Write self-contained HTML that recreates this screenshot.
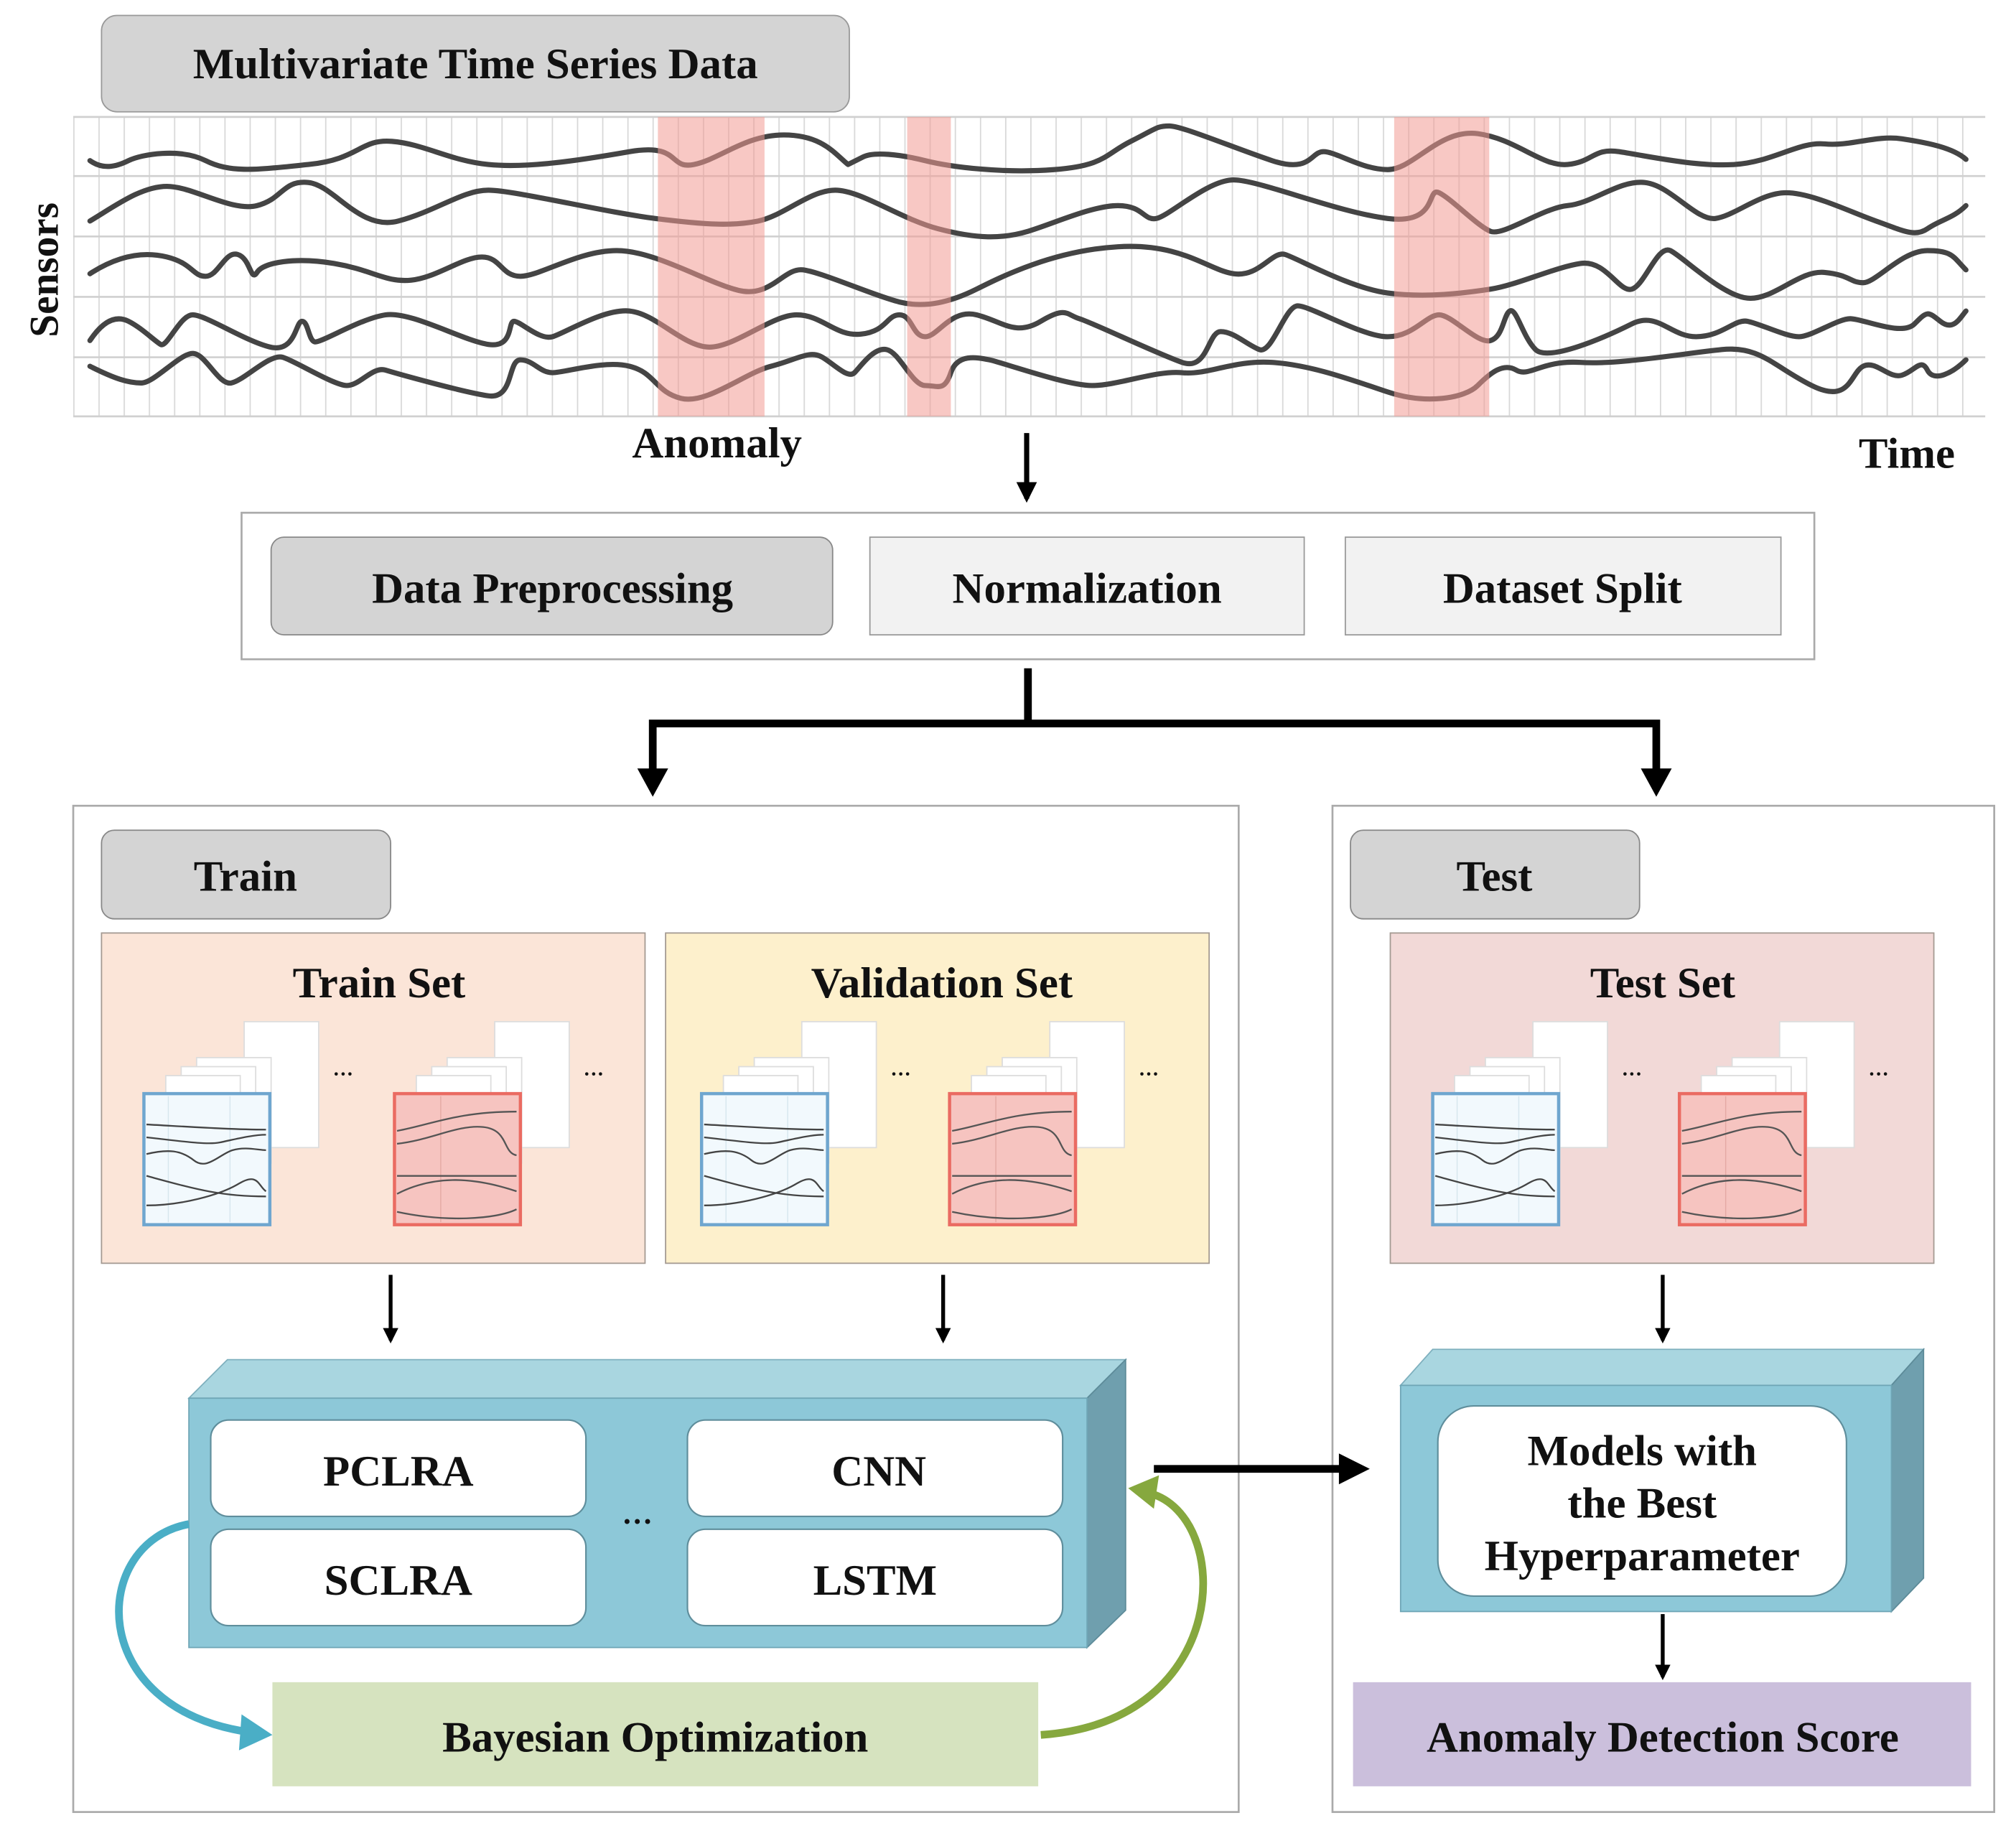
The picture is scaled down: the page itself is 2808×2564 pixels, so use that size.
<!DOCTYPE html>
<html><head><meta charset="utf-8"><style>
html,body{margin:0;padding:0;background:#fff}
svg{display:block}
text{font-family:"Liberation Serif",serif;font-weight:bold;fill:#111}
</style></head><body>
<svg width="2808" height="2564" viewBox="0 0 1560 1424.4" preserveAspectRatio="none" xmlns="http://www.w3.org/2000/svg">
<defs>
<marker id="ah" viewBox="0 0 10 10" refX="8" refY="5" markerWidth="4" markerHeight="4" orient="auto"><path d="M0,0 L10,5 L0,10 z" fill="#000"/></marker>
<pattern id="vg" x="57" y="0" width="19.6" height="10" patternUnits="userSpaceOnUse"><line x1="0.5" y1="0" x2="0.5" y2="10" stroke="#d8d8d8" stroke-width="1"/></pattern>
<g id="stackB">
 <rect x="79" y="0" width="58" height="98" fill="#fff" stroke="#ddd"/>
 <rect x="42" y="28" width="58" height="82" fill="#fff" stroke="#ddd"/>
 <rect x="30" y="35" width="58" height="85" fill="#fff" stroke="#ddd"/>
 <rect x="18" y="42" width="58" height="88" fill="#fff" stroke="#ddd"/>
 <text x="156" y="46" font-size="16" text-anchor="middle">···</text>
 <rect x="1" y="56" width="98" height="102" fill="#f2f9fd" stroke="#6fa6cf" stroke-width="2.5"/>
 <g stroke="#d6e6ee" stroke-width="0.8"><line x1="20" y1="58" x2="20" y2="156"/><line x1="68" y1="58" x2="68" y2="156"/></g>
 <g fill="none" stroke="#444" stroke-width="1.3">
  <path d="M3,80 C40,82 70,84 96,84"/>
  <path d="M3,90 C30,93 50,96 60,94 S85,88 96,88"/>
  <path d="M3,103 C20,99 30,100 40,108 S60,103 70,100 S90,100 96,100"/>
  <path d="M3,120 C40,130 60,136 96,136"/>
  <path d="M3,143 C30,143 60,135 75,126 S90,128 96,132"/>
 </g>
</g>
<g id="stackR">
 <rect x="79" y="0" width="58" height="98" fill="#fff" stroke="#ddd"/>
 <rect x="42" y="28" width="58" height="82" fill="#fff" stroke="#ddd"/>
 <rect x="30" y="35" width="58" height="85" fill="#fff" stroke="#ddd"/>
 <rect x="18" y="42" width="58" height="88" fill="#fff" stroke="#ddd"/>
 <text x="156" y="46" font-size="16" text-anchor="middle">···</text>
 <rect x="1" y="56" width="98" height="102" fill="#f6c4c0" stroke="#ea6b62" stroke-width="2.5"/>
 <g stroke="#e4a9a4" stroke-width="0.8"><line x1="37" y1="58" x2="37" y2="156"/></g>
 <g fill="none" stroke="#555" stroke-width="1.3">
  <path d="M3,85 C30,80 50,70 96,70"/>
  <path d="M3,95 C30,92 50,80 70,82 S85,102 96,104"/>
  <path d="M3,120 L96,120"/>
  <path d="M3,134 C30,120 60,120 96,132"/>
  <path d="M3,148 C40,156 80,154 96,146"/>
 </g>
</g>
</defs>
<g transform="scale(0.9943)">
<!-- Top title -->
<rect x="79" y="12" width="582" height="75" rx="12" fill="#d4d4d4" stroke="#999" stroke-width="1"/>
<text x="370" y="61" font-size="34" text-anchor="middle">Multivariate Time Series Data</text>

<!-- Grid -->
<rect x="57" y="91" width="1488" height="233" fill="#fff"/>
<rect x="57" y="91" width="1488" height="233" fill="url(#vg)"/>
<g stroke="#d0d0d0" stroke-width="1.5">
 <line x1="57" y1="91" x2="1545" y2="91"/><line x1="57" y1="137" x2="1545" y2="137"/>
 <line x1="57" y1="184" x2="1545" y2="184"/><line x1="57" y1="231" x2="1545" y2="231"/>
 <line x1="57" y1="278" x2="1545" y2="278"/><line x1="57" y1="324" x2="1545" y2="324"/>
</g>
<g fill="none" stroke="#444" stroke-width="4" stroke-linejoin="round" stroke-linecap="round">
 <path d="M70,125 C80,132 90,130 100,125 S140,115 160,125 S200,132 240,128 S280,108 305,110 S350,125 380,128 S450,125 490,118 S520,132 540,128 S580,105 610,105 S650,120 660,128 L672,122 C680,118 700,120 720,125 S780,135 820,132 S860,120 880,110 S900,98 910,98 S960,115 990,125 S1020,118 1030,118 S1060,132 1080,132 S1120,100 1150,104 S1200,130 1220,128 S1240,115 1260,118 S1320,130 1350,128 S1400,110 1420,112 S1460,105 1480,108 S1520,115 1530,124"/>
 <path d="M70,172 C90,160 110,145 130,145 S180,165 200,160 S220,140 240,142 S280,180 310,172 S360,148 380,148 S470,165 510,170 S570,176 590,172 S630,148 650,148 S700,170 730,178 S780,186 800,180 S850,160 870,160 S890,172 900,170 S940,140 960,140 S1040,165 1080,170 S1110,145 1120,150 S1150,176 1160,180 S1200,162 1220,160 S1260,140 1280,142 S1320,172 1335,170 S1370,150 1390,150 S1440,165 1460,172 S1490,185 1500,178 S1520,170 1530,160"/>
 <path d="M70,213 C90,200 110,195 130,200 S150,215 160,215 S175,195 185,198 S195,220 200,212 S230,200 260,205 S300,220 320,218 S360,200 375,200 S390,215 405,215 S450,195 480,195 S550,220 575,226 S610,208 625,210 S680,230 700,235 S740,235 760,225 S820,195 870,192 S940,210 960,213 S990,195 1000,198 S1050,224 1080,228 S1140,228 1160,225 S1210,208 1230,205 S1260,228 1270,225 S1290,190 1300,195 S1340,230 1360,232 S1400,210 1420,212 S1440,220 1450,220 S1480,195 1500,195 S1520,200 1530,210"/>
 <path d="M70,265 C80,250 90,245 100,250 S120,265 125,268 S140,245 150,245 S190,265 210,270 S230,250 235,250 S240,265 245,266 S280,248 300,245 S360,265 380,268 S395,250 400,250 S420,265 430,262 S470,240 490,242 S530,268 550,270 S600,245 620,245 S650,262 670,260 S690,245 700,245 S710,262 720,262 S740,240 760,245 S790,262 810,250 S830,245 840,248 S900,275 920,282 S940,258 950,258 S970,268 980,272 S1000,238 1010,238 S1060,262 1080,262 S1110,245 1120,245 S1150,268 1160,265 S1170,245 1175,242 S1185,262 1195,272 S1250,262 1270,252 S1300,262 1320,262 S1350,248 1360,250 S1390,262 1400,262 S1430,248 1440,248 S1480,262 1490,252 S1500,242 1510,250 S1525,248 1530,242"/>
 <path d="M70,285 C90,295 100,298 110,298 S140,275 150,275 S170,300 180,298 S210,275 220,278 S260,300 270,300 S290,285 300,288 S360,305 380,308 S395,280 405,280 S420,290 430,290 S470,280 490,285 S510,305 530,310 S580,290 600,285 S630,272 640,278 S660,295 665,290 S680,270 690,272 S710,300 720,300 S735,305 740,290 S760,278 770,280 S830,300 850,300 S900,288 920,290 S960,280 990,282 S1050,295 1080,305 S1140,310 1150,300 S1170,282 1180,288 S1200,280 1230,282 S1310,275 1340,272 S1380,285 1410,300 S1440,290 1450,285 S1470,295 1480,292 S1495,278 1500,288 S1520,290 1530,280"/>
</g>
<g fill="#f39a93" opacity="0.55">
 <rect x="512" y="91" width="83" height="233"/>
 <rect x="706" y="91" width="34" height="233"/>
 <rect x="1085" y="91" width="74" height="233"/>
</g>
<text x="45" y="210" font-size="32" text-anchor="middle" transform="rotate(-90 45 210)">Sensors</text>
<text x="558" y="356" font-size="34" text-anchor="middle">Anomaly</text>
<text x="1484" y="364" font-size="34" text-anchor="middle">Time</text>

<line x1="799" y1="337" x2="799" y2="388" stroke="#000" stroke-width="4" marker-end="url(#ah)"/>

<rect x="188" y="399" width="1224" height="114" fill="#fff" stroke="#aaa" stroke-width="1.5"/>
<rect x="211" y="418" width="437" height="76" rx="10" fill="#d4d4d4" stroke="#888"/>
<text x="430" y="469" font-size="34" text-anchor="middle">Data Preprocessing</text>
<rect x="677" y="418" width="338" height="76" fill="#f2f2f2" stroke="#999"/>
<text x="846" y="469" font-size="34" text-anchor="middle">Normalization</text>
<rect x="1047" y="418" width="339" height="76" fill="#f2f2f2" stroke="#999"/>
<text x="1216" y="469" font-size="34" text-anchor="middle">Dataset Split</text>

<g stroke="#000" stroke-width="6" fill="none">
 <line x1="800" y1="520" x2="800" y2="563"/>
 <polyline points="508,603 508,563 1289,563 1289,603"/>
</g>
<path d="M496,598 L520,598 L508,620 z" fill="#000"/>
<path d="M1277,598 L1301,598 L1289,620 z" fill="#000"/>

<!-- Train panel -->
<rect x="57" y="627" width="907" height="783" fill="#fff" stroke="#aaa" stroke-width="1.5"/>
<rect x="79" y="646" width="225" height="69" rx="10" fill="#d4d4d4" stroke="#888"/>
<text x="191" y="693" font-size="34" text-anchor="middle">Train</text>

<rect x="79" y="726" width="423" height="257" fill="#fbe5d8" stroke="#a49a92"/>
<text x="295" y="776" font-size="34" text-anchor="middle">Train Set</text>
<use href="#stackB" x="111" y="795"/>
<use href="#stackR" x="306" y="795"/>

<rect x="518" y="726" width="423" height="257" fill="#fdf0cc" stroke="#a49a92"/>
<text x="733" y="776" font-size="34" text-anchor="middle">Validation Set</text>
<use href="#stackB" x="545" y="795"/>
<use href="#stackR" x="738" y="795"/>

<line x1="304" y1="992" x2="304" y2="1043" stroke="#000" stroke-width="3" marker-end="url(#ah)"/>
<line x1="734" y1="992" x2="734" y2="1043" stroke="#000" stroke-width="3" marker-end="url(#ah)"/>

<polygon points="147,1088 177,1058 876,1058 846,1088" fill="#a9d6e0" stroke="#7fb0be"/>
<polygon points="846,1088 876,1058 876,1253 846,1282" fill="#6f9fae" stroke="#5d8b99"/>
<rect x="147" y="1088" width="699" height="194" fill="#8dc8d8" stroke="#6fa6b6"/>
<g fill="#fff" stroke="#5f8e9c" stroke-width="1.2">
 <rect x="164" y="1105" width="292" height="75" rx="14"/>
 <rect x="164" y="1190" width="292" height="75" rx="14"/>
 <rect x="535" y="1105" width="292" height="75" rx="14"/>
 <rect x="535" y="1190" width="292" height="75" rx="14"/>
</g>
<text x="310" y="1156" font-size="34" text-anchor="middle">PCLRA</text>
<text x="310" y="1241" font-size="34" text-anchor="middle">SCLRA</text>
<text x="684" y="1156" font-size="34" text-anchor="middle">CNN</text>
<text x="681" y="1241" font-size="34" text-anchor="middle">LSTM</text>
<text x="496" y="1192" font-size="24" text-anchor="middle">···</text>

<rect x="212" y="1309" width="596" height="81" fill="#d6e3bf"/>
<text x="510" y="1363" font-size="34" text-anchor="middle">Bayesian Optimization</text>
<path d="M147,1186 C70,1200 65,1330 195,1348" fill="none" stroke="#4aaec6" stroke-width="6"/>
<path d="M188,1334 L212,1350 L186,1362 z" fill="#4aaec6"/>
<path d="M810,1350 C960,1340 960,1180 895,1162" fill="none" stroke="#86a83e" stroke-width="6"/>
<path d="M878,1158 L902,1148 L898,1174 z" fill="#86a83e"/>

<!-- Test panel -->
<rect x="1037" y="627" width="515" height="783" fill="#fff" stroke="#aaa" stroke-width="1.5"/>
<rect x="1051" y="646" width="225" height="69" rx="10" fill="#d4d4d4" stroke="#888"/>
<text x="1163" y="693" font-size="34" text-anchor="middle">Test</text>
<rect x="1082" y="726" width="423" height="257" fill="#f2d9d7" stroke="#a49a92"/>
<text x="1294" y="776" font-size="34" text-anchor="middle">Test Set</text>
<use href="#stackB" x="1114" y="795"/>
<use href="#stackR" x="1306" y="795"/>
<line x1="1294" y1="992" x2="1294" y2="1043" stroke="#000" stroke-width="3" marker-end="url(#ah)"/>

<polygon points="1090,1078 1115,1050 1497,1050 1472,1078" fill="#a9d6e0" stroke="#7fb0be"/>
<polygon points="1472,1078 1497,1050 1497,1228 1472,1254" fill="#6f9fae" stroke="#5d8b99"/>
<rect x="1090" y="1078" width="382" height="176" fill="#8dc8d8" stroke="#6fa6b6"/>
<rect x="1119" y="1094" width="318" height="148" rx="28" fill="#fff" stroke="#5f8e9c" stroke-width="1.2"/>
<text x="1278" y="1140" font-size="34" text-anchor="middle">Models with</text>
<text x="1278" y="1181" font-size="34" text-anchor="middle">the Best</text>
<text x="1278" y="1222" font-size="34" text-anchor="middle">Hyperparameter</text>
<line x1="1294" y1="1256" x2="1294" y2="1305" stroke="#000" stroke-width="3" marker-end="url(#ah)"/>
<rect x="1053" y="1309" width="481" height="81" fill="#cbbfdc"/>
<text x="1294" y="1363" font-size="34" text-anchor="middle">Anomaly Detection Score</text>

<!-- arrow to test (on top) -->
<line x1="898" y1="1143" x2="1050" y2="1143" stroke="#000" stroke-width="6"/>
<path d="M1042,1131 L1066,1143 L1042,1155 z" fill="#000"/>
</g>
</svg>
</body></html>
